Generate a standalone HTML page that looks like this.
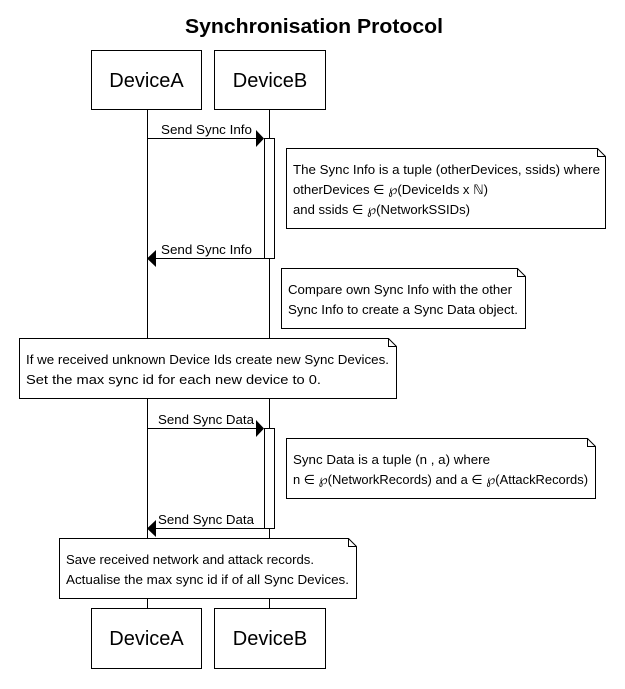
<!DOCTYPE html>
<html><head><meta charset="utf-8"><style>
html,body{margin:0;padding:0;background:#fff;}
svg{display:block;}
text{font-family:"Liberation Sans","DejaVu Sans",sans-serif;fill:#000;}
.n{font-size:13px;}
.h{font-size:20px;}
</style></head><body>
<svg width="625" height="689" viewBox="0 0 625 689" xmlns="http://www.w3.org/2000/svg">
<rect width="625" height="689" fill="#fff"/>
<text x="185" y="33" style="font-size:20px;font-weight:bold" textLength="258" lengthAdjust="spacingAndGlyphs">Synchronisation Protocol</text>
<g stroke="#000" stroke-width="1" fill="none">
<line x1="147.5" y1="109" x2="147.5" y2="609"/>
<line x1="269.5" y1="109" x2="269.5" y2="609"/>
<rect x="91.5" y="50.5" width="110" height="59" fill="#fff"/>
<rect x="214.5" y="50.5" width="111" height="59" fill="#fff"/>
<rect x="91.5" y="608.5" width="110" height="60" fill="#fff"/>
<rect x="214.5" y="608.5" width="111" height="60" fill="#fff"/>
<rect x="264.5" y="138.5" width="10" height="120" fill="#fff"/>
<rect x="264.5" y="428.5" width="10" height="100" fill="#fff"/>
<line x1="147" y1="138.5" x2="258" y2="138.5"/>
<line x1="155" y1="258.5" x2="264" y2="258.5"/>
<line x1="147" y1="428.5" x2="258" y2="428.5"/>
<line x1="155" y1="528.5" x2="264" y2="528.5"/>
<path d="M286.5 148.5 H597.5 L605.5 156.5 V228.5 H286.5 Z M597.5 148.5 V156.5 H605.5" fill="#fff"/>
<path d="M281.5 268.5 H517.5 L525.5 276.5 V328.5 H281.5 Z M517.5 268.5 V276.5 H525.5" fill="#fff"/>
<path d="M19.5 338.5 H388.5 L396.5 346.5 V398.5 H19.5 Z M388.5 338.5 V346.5 H396.5" fill="#fff"/>
<path d="M286.5 438.5 H587.5 L595.5 446.5 V498.5 H286.5 Z M587.5 438.5 V446.5 H595.5" fill="#fff"/>
<path d="M59.5 538.5 H348.5 L356.5 546.5 V598.5 H59.5 Z M348.5 538.5 V546.5 H356.5" fill="#fff"/>
</g>
<g fill="#000">
<polygon points="256,130 264,138.5 256,147"/>
<polygon points="156,250 147,258.5 156,267"/>
<polygon points="256,420 264,428.5 256,437"/>
<polygon points="156,520 147,528.5 156,537"/>
</g>
<text x="146.5" y="87" text-anchor="middle" class="h">DeviceA</text>
<text x="270" y="87" text-anchor="middle" class="h">DeviceB</text>
<text x="146.5" y="645" text-anchor="middle" class="h">DeviceA</text>
<text x="270" y="645" text-anchor="middle" class="h">DeviceB</text>
<text x="161" y="134" class="n" textLength="91" lengthAdjust="spacingAndGlyphs">Send Sync Info</text>
<text x="161" y="254" class="n" textLength="91" lengthAdjust="spacingAndGlyphs">Send Sync Info</text>
<text x="158" y="424" class="n" textLength="96" lengthAdjust="spacingAndGlyphs">Send Sync Data</text>
<text x="158" y="524" class="n" textLength="96" lengthAdjust="spacingAndGlyphs">Send Sync Data</text>
<text x="293" y="174" class="n" textLength="307" lengthAdjust="spacingAndGlyphs">The Sync Info is a tuple (otherDevices, ssids) where</text>
<text x="293" y="194" class="n" textLength="195" lengthAdjust="spacingAndGlyphs">otherDevices ∈ ℘(DeviceIds x ℕ)</text>
<text x="293" y="214" class="n" textLength="177" lengthAdjust="spacingAndGlyphs">and ssids ∈ ℘(NetworkSSIDs)</text>
<text x="288" y="294" class="n" textLength="224" lengthAdjust="spacingAndGlyphs">Compare own Sync Info with the other</text>
<text x="288" y="314" class="n" textLength="230" lengthAdjust="spacingAndGlyphs">Sync Info to create a Sync Data object.</text>
<text x="26" y="364" class="n" textLength="363" lengthAdjust="spacingAndGlyphs">If we received unknown Device Ids create new Sync Devices.</text>
<text x="26" y="384" class="n" textLength="295" lengthAdjust="spacingAndGlyphs">Set the max sync id for each new device to 0.</text>
<text x="293" y="464" class="n" textLength="197" lengthAdjust="spacingAndGlyphs">Sync Data is a tuple (n , a) where</text>
<text x="293" y="484" class="n" textLength="295" lengthAdjust="spacingAndGlyphs">n ∈ ℘(NetworkRecords) and a ∈ ℘(AttackRecords)</text>
<text x="66" y="564" class="n" textLength="248" lengthAdjust="spacingAndGlyphs">Save received network and attack records.</text>
<text x="66" y="584" class="n" textLength="283" lengthAdjust="spacingAndGlyphs">Actualise the max sync id if of all Sync Devices.</text>
</svg>
</body></html>
